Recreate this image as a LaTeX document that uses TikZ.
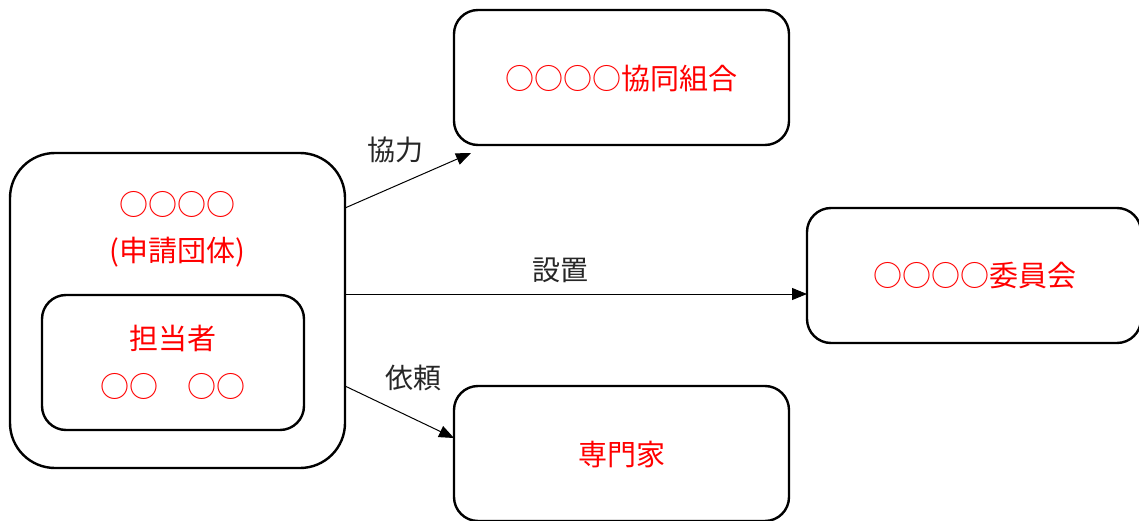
\documentclass[tikz,border=0pt]{standalone}
\usepackage{fontspec}
\setmainfont{Noto Sans CJK JP}
\usetikzlibrary{arrows.meta}
\begin{document}
\begin{tikzpicture}[x=1pt,y=-1pt,
  box/.style={draw=black,line width=2.4pt,fill=white,inner sep=0pt},
  redtext/.style={text=red,font=\fontsize{29}{34}\selectfont},
  lbl/.style={text=black!85,font=\fontsize{28}{33}\selectfont},
  conn/.style={draw=black,line width=1pt,-{Triangle[length=15pt,width=12pt]}}]
\useasboundingbox (0,0) rectangle (1139,521);
% boxes
\node[box,rounded corners=45pt,minimum width=335pt,minimum height=315pt] (A) at (177.5,310.5) {};
\node[box,rounded corners=24pt,minimum width=262pt,minimum height=135pt] (I) at (173,362.5) {};
\node[box,rounded corners=24pt,minimum width=335pt,minimum height=135pt] (B) at (621.5,77.5) {};
\node[box,rounded corners=24pt,minimum width=334pt,minimum height=135pt] (C) at (974,275.5) {};
\node[box,rounded corners=24pt,minimum width=335pt,minimum height=135pt] (D) at (621.5,453.5) {};
% texts
\node[redtext] (a1t) at (177,204) {○○○○};
\node[redtext] (a2t) at (177,252) {(申請団体)};
\node[redtext] (i1t) at (173,338) {担当者};
\node[redtext] (i2t) at (173,386) {○○　○○};
\node[redtext] (bt) at (621.5,78) {○○○○協同組合};
\node[redtext] (ct) at (975,276) {○○○○委員会};
\node[redtext] (dt) at (621.5,455) {専門家};
% connectors
\coordinate (s1) at (345,208);
\coordinate (e1) at (471,153);
\coordinate (s2) at (345,294);
\coordinate (e2) at (807,294);
\coordinate (s3) at (345,386);
\coordinate (e3) at (454,438);
\draw[conn] (s1) -- (e1);
\draw[conn] (s2) -- (e2);
\draw[conn] (s3) -- (e3);
\node[lbl] (l1) at (395,150) {協力};
\node[lbl] (l2) at (560,270) {設置};
\node[lbl] (l3) at (413,378) {依頼};
\end{tikzpicture}
\end{document}
